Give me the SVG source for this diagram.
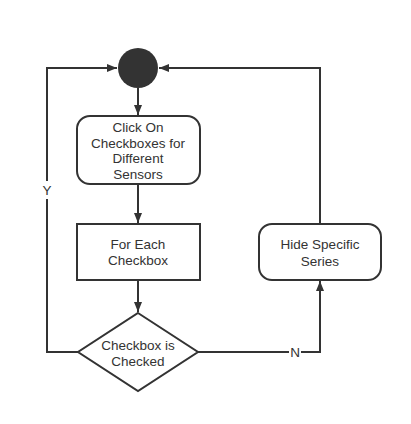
<svg xmlns="http://www.w3.org/2000/svg" width="411" height="424" viewBox="0 0 411 424">
<style>
.shape{fill:#fff;stroke:#333;stroke-width:2}
.line{fill:none;stroke:#333;stroke-width:2}
.t{font-family:"Liberation Sans",Arial,sans-serif;font-size:13.5px;fill:#333;text-anchor:middle;dominant-baseline:central}
.lbl{fill:#fff}
</style>
<defs>
<marker id="arr" viewBox="0 0 10 10" refX="10" refY="5" markerWidth="10" markerHeight="10" markerUnits="userSpaceOnUse" orient="auto">
<path d="M0,1 L10,5 L0,9 Z" fill="#333"/>
</marker>
</defs>
<rect width="411" height="424" fill="#fff"/>
<g id="connectors">
<path class="line" d="M138,88 V115" marker-end="url(#arr)"/>
<path class="line" d="M138,184 V223" marker-end="url(#arr)"/>
<path class="line" d="M138,280 V312" marker-end="url(#arr)"/>
<path class="line" d="M78,352 H47 V68 H117" marker-end="url(#arr)"/>
<path class="line" d="M198,352 H320 V281" marker-end="url(#arr)"/>
<path class="line" d="M320,224 V68 H159" marker-end="url(#arr)"/>
<rect class="lbl" x="41" y="181" width="12" height="18"/>
<text class="t" x="47" y="190">Y</text>
<rect class="lbl" x="289" y="343" width="12" height="18"/>
<text class="t" x="295" y="352">N</text>
</g>
<g id="start">
<circle cx="138" cy="68" r="20" fill="#333"/>
</g>
<g id="click">
<rect class="shape" x="77" y="116" width="123" height="68" rx="13"/>
<text class="t" x="138" y="127">Click On</text>
<text class="t" x="138" y="143">Checkboxes for</text>
<text class="t" x="138" y="158">Different</text>
<text class="t" x="138" y="174">Sensors</text>
</g>
<g id="foreach">
<rect class="shape" x="77" y="224" width="123" height="56"/>
<text class="t" x="138" y="244">For Each</text>
<text class="t" x="138" y="260">Checkbox</text>
</g>
<g id="decision">
<polygon class="shape" points="138,313 198,352 138,391 78,352"/>
<text class="t" x="138" y="345">Checkbox is</text>
<text class="t" x="138" y="361">Checked</text>
</g>
<g id="hide">
<rect class="shape" x="259" y="224" width="122" height="56" rx="13"/>
<text class="t" x="320" y="244">Hide Specific</text>
<text class="t" x="320" y="261">Series</text>
</g>
</svg>
